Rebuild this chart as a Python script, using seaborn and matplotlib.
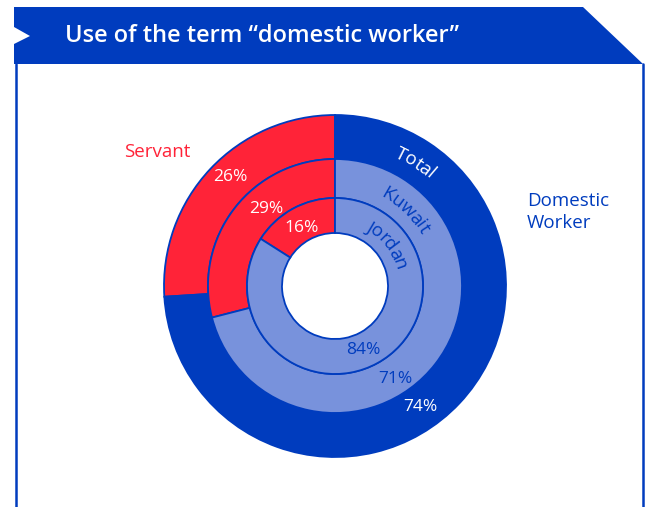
import numpy as np
import matplotlib
matplotlib.use("Agg")
import matplotlib.pyplot as plt
from matplotlib.patches import Polygon
from matplotlib.lines import Line2D
import seaborn as sns

# Survey data: share of respondents using each term, per group
groups = ["Total", "Kuwait", "Jordan"]
servant = [26, 29, 16]
domestic_worker = [74, 71, 84]
term_labels = ["Servant", "Domestic\nWorker"]
title = "Use of the term \u201cdomestic worker\u201d"

sns.set_theme(style="white")
plt.rcParams["font.family"] = ["Open Sans", "DejaVu Sans"]

BLUE = "#003cbe"
RED = "#ff2338"
LIGHT = "#7892dc"

W, H = 648, 507
fig = plt.figure(figsize=(W / 100, H / 100), dpi=100)
ax = fig.add_axes([0, 0, 1, 1])

# --- header banner and frame -------------------------------------------
banner = [(14, 7), (583, 7), (643, 64), (14, 64), (14, 44), (30, 36), (14, 27)]
ax.add_patch(Polygon([(x, H - y) for x, y in banner], closed=True,
                     facecolor=BLUE, edgecolor="none", zorder=1))
for xf in (16, 643):
    ax.add_line(Line2D([xf, xf], [H - 64, 0], color=BLUE, lw=1.8, zorder=1))
ax.text(65, H - 36, title, color="white", fontsize=17, fontweight="semibold",
        ha="left", va="center", zorder=2)

# --- nested donut -------------------------------------------------------
cx, cy = 335, H - 286
rings = [(171, 44), (127, 39), (88, 35)]          # outer radius, ring width
fills = [BLUE, LIGHT, LIGHT]
for (r, w), s, d, fill in zip(rings, servant, domestic_worker, fills):
    ax.pie([s, d], colors=[RED, fill], startangle=90, counterclock=True,
           radius=r, center=(cx, cy),
           wedgeprops=dict(width=w, edgecolor=BLUE, linewidth=1.3))

ax.set_xlim(0, W)
ax.set_ylim(0, H)
ax.set_aspect("auto")
ax.axis("off")

renderer = fig.canvas.get_renderer()


def arc_text(s, radius, center_deg, color, size):
    """Write s clockwise along a circle, letters upright towards the rim."""
    probe = ax.text(0, 0, "", fontsize=size)
    prop = probe.get_fontproperties()
    probe.remove()

    def width(txt):
        if not txt:
            return 0.0
        return renderer.get_text_width_height_descent(txt, prop, ismath=False)[0]

    base_r = radius - 0.36 * size * 100 / 72
    total = width(s)
    start = np.radians(center_deg) - total / 2 / radius
    for i, ch in enumerate(s):
        mid = (width(s[:i]) + width(s[:i + 1])) / 2
        th = start + mid / radius
        ax.text(cx + base_r * np.sin(th), cy + base_r * np.cos(th), ch,
                rotation=-np.degrees(th), rotation_mode="anchor",
                ha="center", va="baseline", fontsize=size, color=color)


ring_mid = [149, 107, 70]
name_angle = [33, 43, 52]
name_color = ["white", BLUE, BLUE]
for g, rm, a, c in zip(groups, ring_mid, name_angle, name_color):
    arc_text(g, rm, a, c, 13.5)

# percentage labels (angles measured from 12 o'clock)
servant_pos = [(-44, 151), (-42, 103), (-30, 67)]
worker_pos = [(145, 148), (147, 111), (156, 70)]
worker_color = ["white", BLUE, BLUE]
for v, (a, r) in zip(servant, servant_pos):
    t = np.radians(a)
    ax.text(cx + r * np.sin(t), cy + r * np.cos(t), f"{v}%", color="white",
            fontsize=12.5, ha="center", va="center")
for v, (a, r), c in zip(domestic_worker, worker_pos, worker_color):
    t = np.radians(a)
    ax.text(cx + r * np.sin(t), cy + r * np.cos(t), f"{v}%", color=c,
            fontsize=12.5, ha="center", va="center")

# term legends beside the donut
ax.text(157, H - 152, term_labels[0], color=RED, fontsize=13.5,
        ha="center", va="center")
ax.text(527, H - 212, term_labels[1], color=BLUE, fontsize=13.5,
        ha="left", va="center", linespacing=1.3)

fig.savefig("out.png", dpi=100, facecolor="white")
